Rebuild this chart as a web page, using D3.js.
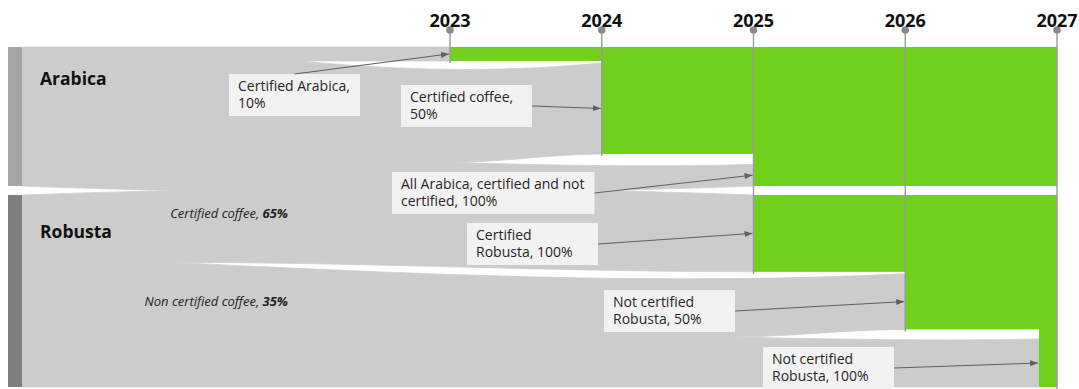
<!DOCTYPE html>
<html>
<head>
<meta charset="utf-8">
<script src="https://cdn.jsdelivr.net/npm/d3@7"></script>
<style>
html,body{margin:0;padding:0;background:#fff;}
svg{display:block;font-family:"Open Sans",sans-serif;}
</style>
</head>
<body>
<div id="chart"></div>
<script>
// ---------------- DATA ----------------
const years = [2023, 2024, 2025, 2026, 2027];
const groups = ["Arabica", "Robusta"];
const groupShare = [42, 58];                 // visual height share of each coffee band
const flowGroup = ["Arabica", "Arabica", "Arabica", "Robusta", "Robusta", "Robusta"];
const flowYear = [2023, 2024, 2025, 2025, 2026, 2027];
const flowLabelLines = [
  ["Certified Arabica,", "10%"],
  ["Certified coffee,", "50%"],
  ["All Arabica, certified and not", "certified, 100%"],
  ["Certified", "Robusta, 100%"],
  ["Not certified", "Robusta, 50%"],
  ["Not certified", "Robusta, 100%"]
];
const sourceCumShare = [10, 83, 100, 35, 74, 100];     // cumulative share at the left bar
const certifiedCumShare = [10, 77, 100, 40, 70, 100];  // cumulative certified (green) share at the year
const splitLabels = ["Certified coffee, ", "Non certified coffee, "];
const splitValues = [65, 35];

// ---------------- LAYOUT / STYLE ----------------
const W = 1079, H = 389;
const bandTop = 47, bandBottom = 387, groupGap = 9;
const barX = 8, barW = 14, nodeW = 18;
const targetGap = 2;
const outerSag = 9;
// curve styling of the boundary above each flow (fraction of run where the split opens, dip)
const splitFrac = [null, 0.65, 0.74, null, 0.2, 0.8];
const splitSag = [0, 10, 3, 0, 12, 2];
const annotationPos = [[229, 74], [401, 85], [392, 172], [467, 223], [604, 290], [763, 347]];
const splitLabelPos = [[288, 218], [288, 306]];
const colors = {
  flow: "#cccccc", green: "#71d01b", bars: ["#a6a6a6", "#7f7f7f"],
  box: "#f2f2f2", text: "#262626", arrow: "#5f5f5f", yearLine: "#9a9a9a", dot: "#8a8a8a"
};

const svg = d3.select("#chart").append("svg").attr("width", W).attr("height", H);

const x = d3.scaleLinear().domain(d3.extent(years)).range([450, 1057]);
const lastYear = d3.max(years);

const totalShare = d3.sum(groupShare);
const yStack = d3.scaleLinear().domain([0, totalShare])
  .range([bandTop, bandBottom - groupGap * (groups.length - 1)]);
const gScale = {};
let acc = 0;
groups.forEach((g, i) => {
  gScale[g] = d3.scaleLinear().domain([0, 100])
    .range([yStack(acc) + i * groupGap, yStack(acc + groupShare[i]) + i * groupGap]);
  acc += groupShare[i];
});

const x0 = barX + barW;
const targetX = i => flowYear[i] === lastYear ? x(flowYear[i]) - nodeW : x(flowYear[i]);

// build flows
const flows = flowGroup.map((g, i) => {
  const gi = groups.indexOf(g);
  const first = i === 0 || flowGroup[i - 1] !== g;
  const last = i === flowGroup.length - 1 || flowGroup[i + 1] !== g;
  const ys = gScale[g];
  const s0 = first ? ys(0) : ys(sourceCumShare[i - 1]);
  const s1 = ys(sourceCumShare[i]);
  const t0 = first ? ys(0) : ys(Math.max(certifiedCumShare[i - 1], sourceCumShare[i - 1])) + targetGap;
  const t1 = ys(certifiedCumShare[i]);
  const x1 = targetX(i);
  let xsT = x0, sagT = 0;
  if (!first) { xsT = x0 + splitFrac[i] * (targetX(i - 1) - x0); sagT = splitSag[i]; }
  else if (gi > 0) { sagT = -outerSag; }
  let xsB = x0, sagB = 0;
  if (!last) { xsB = x0 + splitFrac[i + 1] * (x1 - x0); }
  else if (gi < groups.length - 1) { sagB = outerSag; }
  return {g, gi, i, s0, s1, t0, t1, x1, xsT, sagT, xsB, sagB};
});

function bandPath(f) {
  const p = d3.path();
  const LT = f.x1 - f.xsT, LB = f.x1 - f.xsB;
  p.moveTo(x0, f.s0);
  p.lineTo(f.xsT, f.s0);
  p.bezierCurveTo(f.xsT + LT / 3, f.s0 + f.sagT, f.xsT + 2 * LT / 3, f.t0 + f.sagT, f.x1, f.t0);
  p.lineTo(f.x1, f.t1);
  p.bezierCurveTo(f.xsB + 2 * LB / 3, f.t1 + f.sagB, f.xsB + LB / 3, f.s1 + f.sagB, f.xsB, f.s1);
  p.lineTo(x0, f.s1);
  p.closePath();
  return p.toString();
}

// gray flows (thin same-colour stroke hides anti-aliasing seams)
svg.append("g").selectAll("path").data(flows).join("path")
  .attr("d", bandPath).attr("fill", colors.flow)
  .attr("stroke", colors.flow).attr("stroke-width", 0.8).attr("stroke-linejoin", "round");

// green certified blocks
svg.append("g").selectAll("rect").data(flows).join("rect")
  .attr("x", f => f.x1).attr("width", f => x(lastYear) - f.x1)
  .attr("y", f => gScale[f.g](0))
  .attr("height", f => gScale[f.g](certifiedCumShare[f.i]) - gScale[f.g](0))
  .attr("fill", colors.green);

// left bars
svg.append("g").selectAll("rect").data(groups).join("rect")
  .attr("x", barX).attr("width", barW)
  .attr("y", g => gScale[g](0)).attr("height", g => gScale[g](100) - gScale[g](0))
  .attr("fill", (g, i) => colors.bars[i]);

// group labels
svg.append("g").selectAll("text").data(groups).join("text")
  .attr("x", 40)
  .attr("y", g => gScale[g](0) + 24 + 0.1 * (gScale[g](100) - gScale[g](0)))
  .attr("font-size", 17.5).attr("font-weight", 700).attr("fill", "#111")
  .text(g => g);

// year lines, dots and labels
const yearBottom = y => d3.max(flows.filter(f => flowYear[f.i] <= y), f => gScale[f.g](certifiedCumShare[f.i]));
const yearG = svg.append("g");
yearG.selectAll("line").data(years).join("line")
  .attr("x1", d => x(d)).attr("x2", d => x(d))
  .attr("y1", 30).attr("y2", d => yearBottom(d) + 2)
  .attr("stroke", colors.yearLine).attr("stroke-width", 1.4);
yearG.selectAll("circle").data(years).join("circle")
  .attr("cx", d => x(d)).attr("cy", 30).attr("r", 3.8).attr("fill", colors.dot);
yearG.selectAll("text").data(years).join("text")
  .attr("x", d => x(d)).attr("y", 27).attr("text-anchor", "middle")
  .attr("font-size", 18).attr("font-weight", 700).attr("fill", "#111")
  .text(d => d);

// robusta split labels
const split = svg.append("g").selectAll("text").data(splitLabels).join("text")
  .attr("x", (d, i) => splitLabelPos[i][0]).attr("y", (d, i) => splitLabelPos[i][1])
  .attr("text-anchor", "end").attr("font-size", 13).attr("font-style", "italic").attr("fill", "#222");
split.append("tspan").text(d => d);
split.append("tspan").attr("font-weight", 700).text((d, i) => splitValues[i] + "%");

// annotations
svg.append("defs").append("marker")
  .attr("id", "arr").attr("viewBox", "0 0 8 6").attr("refX", 8).attr("refY", 3)
  .attr("markerWidth", 8).attr("markerHeight", 6).attr("markerUnits", "userSpaceOnUse")
  .attr("orient", "auto")
  .append("path").attr("d", "M0,0L8,3L0,6Z").attr("fill", colors.arrow);

const ann = svg.append("g").selectAll("g").data(flows).join("g");
ann.each(function(f) {
  const g = d3.select(this);
  const [bx, by] = annotationPos[f.i];
  const lines = flowLabelLines[f.i];
  const txt = g.append("text").attr("font-size", 14).attr("fill", colors.text);
  lines.forEach((l, k) => txt.append("tspan").attr("x", bx + 9).attr("y", by + 17 + k * 17).text(l));
  const tw = txt.node().getBBox().width;
  const bw = Math.max(131, tw + 19), bh = 42;
  g.insert("rect", "text").attr("x", bx).attr("y", by).attr("width", bw).attr("height", bh)
    .attr("fill", colors.box);
  const ex = f.x1, ey = (f.t0 + f.t1) / 2;
  let sx, sy;
  if (ey < by) { sx = bx + bw / 2; sy = by; } else { sx = bx + bw; sy = by + bh / 2; }
  g.append("line").attr("x1", sx).attr("y1", sy).attr("x2", ex - 1).attr("y2", ey)
    .attr("stroke", colors.arrow).attr("stroke-width", 1).attr("marker-end", "url(#arr)");
});
</script>
</body>
</html>
